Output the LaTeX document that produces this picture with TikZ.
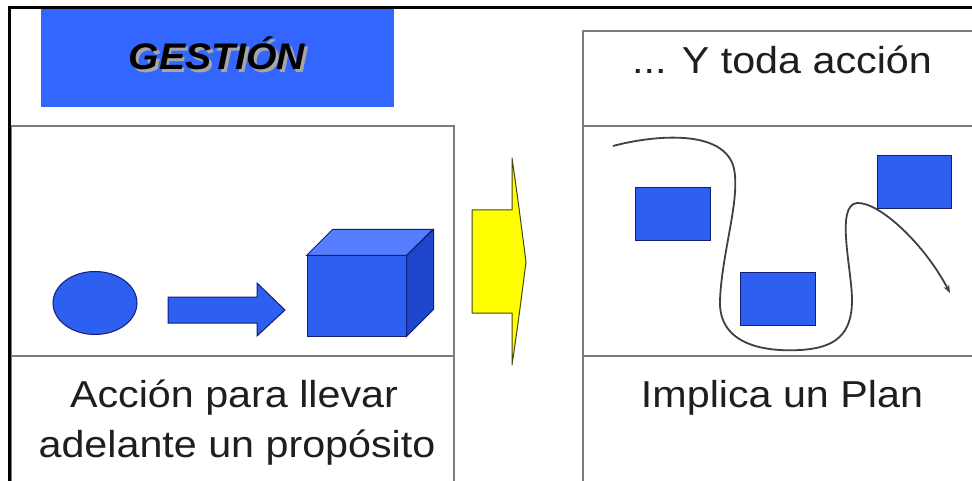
\documentclass[tikz,border=0pt]{standalone}
\usepackage{fontspec}
\setmainfont{Liberation Sans}
\usetikzlibrary{positioning}
\usetikzlibrary{arrows.meta}
\usetikzlibrary{shapes.geometric}

\definecolor{hdrblue}{RGB}{51,102,255}
\definecolor{shapeblue}{RGB}{45,95,240}
\definecolor{topblue}{RGB}{85,125,255}
\definecolor{sideblue}{RGB}{30,70,205}
\definecolor{navyline}{RGB}{20,30,120}
\definecolor{panelgray}{RGB}{125,125,125}
\definecolor{arrowyellow}{RGB}{255,255,0}
\definecolor{oliveline}{RGB}{70,70,20}
\definecolor{inkgray}{RGB}{30,30,30}

\newcommand{\wide}[1]{\scalebox{1.1}[1]{#1}}
\newcommand{\shadowed}[1]{\makebox[0pt][l]{\hspace{2.5pt}\raisebox{-2.5pt}{\textcolor{gray!70}{#1}}}#1}

\begin{document}
\begin{tikzpicture}[x=1pt,y=-1pt,>={Stealth[length=8pt,width=6pt]},
		panel/.style={draw=panelgray,line width=2pt,anchor=north west,inner sep=0pt},
		caption/.style={font=\fontsize{37.5}{44}\selectfont,text=inkgray,anchor=base,inner sep=0pt},
		blueshape/.style={fill=shapeblue,draw=navyline,line width=1pt,inner sep=0pt}]
	\useasboundingbox (0,0) rectangle (972,481);
	\clip (0,0) rectangle (972,481);
	\fill[white] (0,0) rectangle (972,481);
	
	% header
	\node[fill=hdrblue,anchor=north west,inner sep=0pt,minimum width=353,minimum height=99] (hdr) at (41,8) {};
	\node[anchor=base,inner sep=0pt,text=black,font=\fontsize{37}{44}\selectfont\bfseries\itshape] (hdrtext) at (217,70) {\scalebox{1.06}[1]{\shadowed{GESTIÓN}}};
	
	% panels
	\node[panel,minimum width=443,minimum height=230] (leftmid) at (10,125) {};
	\node[panel,minimum width=443,minimum height=140] (leftbot) at (10,355) {};
	\node[panel,minimum width=420,minimum height=95]  (righttop) at (582,30) {};
	\node[panel,minimum width=420,minimum height=230] (rightmid) at (582,125) {};
	\node[panel,minimum width=420,minimum height=140] (rightbot) at (582,355) {};
	
	% frame
	\draw[line width=3pt] (9,481) -- (9,8) -- (972,8);
	
	% texts
	\node[caption] (toda) at (782,74) {\wide{... Y toda acción}};
	\node[caption] (accion) at (234,407) {\wide{Acción para llevar}};
	\node[caption] (adelante) at (237,457) {\wide{adelante un propósito}};
	\node[caption] (plan) at (782,407) {\wide{Implica un Plan}};
	
	% left drawing
	\node[blueshape,ellipse,minimum width=84,minimum height=63] (oval) at (95,303) {};
	\draw[blueshape] (168,297) -- (257,297) -- (257,283) -- (285,310) -- (257,336) -- (257,323) -- (168,323) -- cycle;
	\node[blueshape,minimum width=99,minimum height=80] (cube) at (356.5,296) {};
	\draw[blueshape,fill=topblue] (cube.north west) -- ++(26,-26) -- ++(100,0) -- (cube.north east) -- cycle;
	\draw[blueshape,fill=sideblue] (cube.north east) -- ++(27,-26) -- ++(0,80) -- (cube.south east) -- cycle;
	
	% yellow arrow
	\draw[fill=arrowyellow,draw=oliveline,line width=1pt,line join=round] (472,210) -- (512,210) -- (512,158)
		.. controls (518,200) .. (526,262) .. controls (518,324) .. (512,365) -- (512,313) -- (472,313) -- cycle;
	
	% right drawing
	\node[blueshape,minimum width=75,minimum height=53] (boxa) at (672.5,214.5) {};
	\node[blueshape,minimum width=75,minimum height=53] (boxb) at (777.5,298.5) {};
	\node[blueshape,minimum width=74,minimum height=53] (boxc) at (914,182.5) {};
	
	\coordinate (pstart) at (613,146);
	\coordinate (pend) at (950,293);
	\draw[->,line width=1.8pt,draw=black!75] (pstart)
		.. controls (650,136) and (720,128) .. (733,165)
		.. controls (742,195) and (722,250) .. (720,300)
		.. controls (718,345) and (765,352) .. (800,350)
		.. controls (835,348) and (852,335) .. (852,300)
		.. controls (852,270) and (835,205) .. (857,203)
		.. controls (880,202) and (925,245) .. (pend);
\end{tikzpicture}
\end{document}
